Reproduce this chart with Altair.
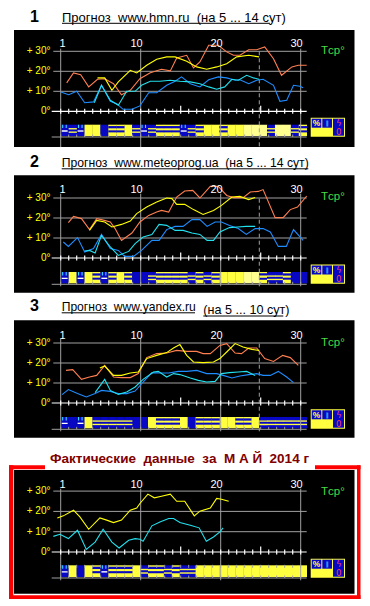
import altair as alt
import pandas as pd

# ------------------------------------------------------------------
# DATA  (x = day position, 0 at the gridline labelled "1", one unit per day;
#        values in degrees C)
# ------------------------------------------------------------------
P1_ORANGE_X = [0.75, 1.6, 2.5, 3.5, 4.6, 5.5, 6.6, 7.6, 8.7, 9.9, 11.2, 12.6, 13.7, 14.5, 15.75, 16.6, 17.4, 18.5, 19.7, 20.75, 21.6, 22.4, 23.5, 24.5, 25.5, 26.6, 27.6, 28.9, 29.7, 30.75]
P1_ORANGE_T = [14.2, 19.2, 18.3, 12.2, 16, 16.3, 13.8, 8.3, 10.5, 16.3, 19.3, 21, 20.2, 26.7, 28, 21.7, 24.7, 33, 33, 29.7, 28, 28, 30.8, 30.8, 32.2, 26.3, 18, 22.2, 23, 23]
P1_YELLOW_X = [4.6, 5.5, 6.4, 7.2, 8.7, 9.5, 10.75, 12, 13.25, 14.3, 15.75, 17, 18.25, 19.5, 20.75, 22, 23.5, 24.8]
P1_YELLOW_T = [16.7, 16.7, 10.5, 14.7, 20.5, 19.2, 23, 26, 27.2, 27.2, 25, 22.2, 21, 22.2, 23.8, 27.2, 28, 27.2]
P1_CYAN_X = [4.2, 5.1, 6.2, 7.2, 8.25, 9.3, 10.1, 11.2, 12.4, 13.7, 14.9, 16.2, 17.4, 18.5, 19.5, 20.5, 21.4, 22.2, 23.25, 24.1, 24.8]
P1_CYAN_T = [4.3, 13, 5.5, 3, 10, 10, 13, 15, 15, 15.5, 15, 14.7, 13.8, 12.2, 11, 12.2, 16, 15.5, 18, 16.7, 16]
P1_BLUE_X = [0, 1, 2, 3, 4.1, 5.1, 6.2, 7, 7.8, 8.9, 9.9, 11, 12, 13.25, 14.3, 15.1, 16.2, 17.4, 18.5, 19.7, 20.75, 21.8, 22.4, 23.5, 24.5, 25.3, 26.6, 27.4, 28.25, 29.1, 29.9, 30.3]
P1_BLUE_T = [9.7, 8.3, 10, 4.3, 4.7, 13, 5, 3.8, 1, 1, 2.7, 9.3, 9.3, 13, 15, 17.2, 13.8, 12.2, 15.8, 17.2, 16.7, 15.5, 15.8, 13.8, 15.5, 16, 13, 5, 5.5, 13, 12.5, 11.8]

P2_ORANGE_X = [0.96, 1.6, 2.6, 3.6, 4.5, 5.1, 6.2, 6.8, 7.6, 8.9, 9.9, 11, 12, 12.6, 13.5, 14.5, 15.5, 16.5, 17.4, 18.7, 19.7, 20.75, 21.6, 22.8, 23.7, 24.7, 25.3, 26.8, 27.8, 28.7, 29.6, 30.75]
P2_ORANGE_T = [17.7, 20.8, 19.7, 14.2, 19.7, 19.2, 18, 14.7, 8.8, 12.5, 18, 21.3, 23, 23.8, 23, 30.5, 33.5, 33.8, 30, 35.8, 35.8, 31.3, 30.2, 30.2, 33, 33.3, 34.2, 20.2, 20.2, 24.2, 25.5, 31]
P2_YELLOW_X = [3.6, 4.5, 5.5, 6.4, 7.6, 8.7, 9.5, 10.75, 12, 13.25, 13.9, 14.5, 15.5, 16.6, 17.8, 19.1, 20.1, 21.4, 22.4, 23.5, 24.3]
P2_YELLOW_T = [13.8, 18.8, 18, 15.5, 16.8, 18.5, 22.2, 25.5, 28, 30, 29.7, 26.8, 26.8, 24.2, 21.8, 23.8, 26.3, 30.5, 30.8, 29.2, 30.2]
P2_CYAN_X = [3, 3.6, 4.3, 5.1, 6.2, 7.2, 8.5, 9.3, 10.3, 11.4, 12.3, 13.25, 14.3, 15.3, 16.4, 17.4, 18.3, 19.1, 19.9, 21.1, 22.1, 23.2, 24.3]
P2_CYAN_T = [3.5, 3.8, 2.5, 11.3, 5.5, 1.3, 3.3, 7.2, 10.5, 11.7, 16.8, 16.3, 13.8, 13.8, 12.5, 11.8, 8.8, 8.8, 13, 15.2, 15.5, 15.8, 15.8]
P2_BLUE_X = [0.33, 0.96, 2.1, 3, 4.1, 5.1, 6.2, 7.2, 8, 9.1, 10.1, 11.4, 12.3, 13.25, 14.3, 15.3, 16.4, 17.4, 18.3, 19.3, 20.1, 21.1, 22.2, 23.2, 24.3, 25.3, 26.2, 27.2, 28.2, 29.1, 30.3]
P2_BLUE_T = [8, 5.8, 10.2, 3, 4.7, 11.8, 4.7, 3.8, 0.8, 0.8, 3.8, 8.8, 8.8, 14.2, 15.8, 15.8, 19.2, 19.2, 15.8, 18, 18, 16.3, 14.7, 11.8, 14.7, 14.7, 13, 5.8, 5.8, 14.2, 8.8]

P3_ORANGE_X = [0.67, 1.5, 2.6, 3.6, 4.5, 5.5, 6.6, 7.6, 8.7, 9.7, 10.75, 12, 13.25, 14.5, 15.75, 17, 17.8, 18.7, 19.9, 20.75, 21.8, 22.6, 23.5, 24.5, 25.5, 26.6, 27.75, 28.7, 29.7]
P3_ORANGE_T = [16.3, 16.7, 11.8, 13, 13.8, 18.8, 13, 12.7, 12.7, 14.7, 22.7, 24.7, 25, 26.3, 25.8, 25.8, 24.7, 24.7, 28.8, 29.7, 25, 24.7, 27.5, 27.5, 22.2, 20.8, 23.8, 22.7, 18.8]
P3_YELLOW_X = [4.9, 5.5, 6.6, 7.6, 8.7, 9.7, 10.75, 12, 13.25, 14.1, 14.9, 15.75, 16.6, 17.8, 19.1, 19.9, 20.75, 21.8, 22.8, 23.9, 24.8]
P3_YELLOW_T = [17.5, 18.5, 13.8, 13.8, 15, 15.5, 22.2, 23.8, 25.2, 27.5, 29.2, 23.8, 20.5, 20.2, 20.5, 22.2, 25.5, 29.7, 28, 26.8, 26.3]
P3_CYAN_X = [4.3, 5.5, 6.2, 7.2, 8.25, 9.3, 10.3, 11.6, 12.2, 13.25, 14.1, 14.9, 16.2, 17.2, 18.25, 19.3, 20.1, 21.1, 22.2, 23.25, 24.3]
P3_CYAN_T = [5.2, 11.8, 6.3, 4.3, 5.5, 8, 11.8, 15.5, 15.8, 13, 14.7, 14.2, 12.5, 11.3, 10.5, 10.8, 14.7, 15.2, 15.5, 15.8, 13.8]
P3_BLUE_X = [0.17, 0.96, 2.1, 3.2, 4.3, 5.1, 6.2, 7.2, 8.25, 9.3, 10.3, 11.4, 12.4, 13.5, 14.7, 15.75, 17, 18.25, 19.5, 20.3, 21.4, 22.4, 23.5, 24.5, 25.3, 26.2, 27.2, 28.25, 29.1]
P3_BLUE_T = [4.2, 6.7, 4.7, 3, 4.7, 6.3, 5.8, 4.7, 4.7, 6, 10.5, 15.2, 15, 15, 15.8, 15.8, 16.3, 14.7, 14.7, 13.8, 12.5, 13.5, 14.2, 14.7, 13.8, 13.8, 15.8, 13, 10.2]

P4_YELLOW_X = [-0.42, 0.33, 1.6, 2.4, 3.5, 4.9, 5.75, 6.6, 7.6, 8.7, 9.5, 9.9, 10.9, 11.7, 12.6, 13.7, 14.5, 15.5, 16.7, 17.4, 18.7, 19.5, 20.1, 21]
P4_YELLOW_T = [16.8, 17.8, 20.6, 17.3, 11.2, 16.8, 15.7, 14.5, 15.7, 20.6, 21.7, 23.9, 28.5, 26.7, 27.5, 28.5, 25, 25, 17.8, 20.1, 21.7, 26.4, 26, 25]
P4_CYAN_X = [-0.92, -0.1, 0.96, 2.1, 3.2, 4.3, 5.3, 6.4, 7.3, 8.5, 9.3, 9.9, 10.3, 11.4, 12.4, 13.5, 14.1, 14.9, 16.2, 17.3, 18.2, 19.1, 19.9, 20.3]
P4_CYAN_T = [7.7, 8.7, 6.6, 10.7, 1.3, 4.9, 11.2, 4.9, 2, 5.8, 6.6, 6.3, 5.3, 12.9, 14.8, 16.5, 16.5, 14.5, 13.2, 11.9, 5.3, 7.4, 9.9, 11.9]

# weather strip, one code per day: R rain(blue+marks) B blue striped b blue
# Y yellow L light yellow S yellow with blue stripes
STRIP_1 = "RBRYYbSSYBRBSSSRBSYYSYYLLLBLLBS"
STRIP_2 = "RYRYSRSYSbbBSSSSBSBSYYYLLSBBSbb"
STRIP_3 = "RbRYBBBBBbbYSSSYbSSSYYSSYBBBBBB"
STRIP_4 = "RYbYSRSSSYBSSBSBB" + "Y" * 14

X_TICKS = [0, 10, 20, 30]
X_TICK_LABELS = ["1", "10", "20", "30"]
Y_TICKS = [30, 20, 10, 0]
Y_TICK_LABELS = ["+ 30°", "+ 20°", "+ 10°", "0°"]

# (text, left x, baseline shift, underline end x)
TITLES = [
    [("Прогноз  www.hmn.ru  (на 5 ... 14 сут)", 62.0, 0.0, 270.0)],
    [("Прогноз  www.meteoprog.ua  (на 5 ... 14 сут)", 61.7, 0.0, 308.3)],
    [("Прогноз  www.yandex.ru", 61.7, 0.0, 195.0), ("(на 5 ... 10 сут)", 203.3, 3.2, 283.3)],
]
TITLE_SIZES = [[13.0], [12.2], [12.1, 12.6]]
FACT_TITLE = "Фактические  данные  за  М А Й  2014 г"

# ------------------------------------------------------------------
# STYLE / LAYOUT
# ------------------------------------------------------------------
COLORS = {"orange": "#FF7F50", "yellow": "#FFFF00", "cyan": "#22E0EE", "blue": "#1E8CFF"}
BLUE_S, YEL_S, LYEL_S, CYAN_S = "#0808C4", "#FFFF40", "#FFFF90", "#40E8FF"
GRID = "#A0A0A0"
FONT = "Liberation Sans"
W = 354


def px(x):
    return (x - 60.7) / 8.0


XD = [px(8), px(8 + W)]

CFG = [
    dict(top=8, bot=148, y0=109.3, k=2.0, black=(28, 145), strip=(122.7, 134.0), bline=135.0,
         vtop=46.7, vbot=145.0, dash=(49.3, 145.0), daylab=45.0, tcp=52.0, box=(115.7, 134.7),
         tbase=19.5, num="1"),
    dict(top=148, bot=293, y0=256.0, k=2.0, black=(173.3, 290.7), strip=(270.0, 281.3), bline=282.3,
         vtop=191.7, vbot=284.3, dash=(196.7, 284.3), daylab=191.0, tcp=198.0, box=(262.5, 281.7),
         tbase=165.0, num="2"),
    dict(top=293, bot=438, y0=401.0, k=2.0, black=(318.3, 435.7), strip=(415.0, 426.3), bline=427.3,
         vtop=336.7, vbot=429.3, dash=(341.7, 429.3), daylab=336.5, tcp=343.5, box=(407.3, 426.7),
         tbase=309.0, num="3"),
    dict(top=438, bot=598, y0=550.0, k=2.03, black=(468, 591.7), strip=(563.3, 575.0), bline=576.0,
         vtop=486.7, vbot=578.3, dash=None, daylab=485.5, tcp=493.0, box=(556.7, 575.7),
         tbase=461.0, num=None),
]

SERIES = [
    {"orange": (P1_ORANGE_X, P1_ORANGE_T), "yellow": (P1_YELLOW_X, P1_YELLOW_T),
     "blue": (P1_BLUE_X, P1_BLUE_T), "cyan": (P1_CYAN_X, P1_CYAN_T)},
    {"orange": (P2_ORANGE_X, P2_ORANGE_T), "yellow": (P2_YELLOW_X, P2_YELLOW_T),
     "blue": (P2_BLUE_X, P2_BLUE_T), "cyan": (P2_CYAN_X, P2_CYAN_T)},
    {"orange": (P3_ORANGE_X, P3_ORANGE_T), "yellow": (P3_YELLOW_X, P3_YELLOW_T),
     "blue": (P3_BLUE_X, P3_BLUE_T), "cyan": (P3_CYAN_X, P3_CYAN_T)},
    {"yellow": (P4_YELLOW_X, P4_YELLOW_T), "cyan": (P4_CYAN_X, P4_CYAN_T)},
]
STRIPS = [STRIP_1, STRIP_2, STRIP_3, STRIP_4]


def nb(s):
    return s.replace(" ", "\u00a0")


def make_panel(idx):
    cfg = CFG[idx]
    y0, k = cfg["y0"], cfg["k"]

    def ty(y):
        return (y0 - y) / k

    xs = alt.Scale(domain=XD, nice=False, zero=False)
    ys = alt.Scale(domain=[ty(cfg["bot"]), ty(cfg["top"])], nice=False, zero=False)
    ex = alt.X("x:Q", scale=xs, axis=None)
    ey = alt.Y("y:Q", scale=ys, axis=None)
    col = alt.Color("c:N", scale=None)

    def R(x1, x2, y1, y2, c):
        return (px(x1), px(x2), ty(y1), ty(y2), c)

    def rect_layer(rows):
        df = pd.DataFrame(rows, columns=["x", "x2", "y", "y2", "c"])
        return alt.Chart(df).mark_rect(strokeWidth=0).encode(
            x=ex, x2="x2:Q", y=ey, y2="y2:Q", color=col)

    def rule_layer(rows, width=1.0, dash=None):
        df = pd.DataFrame(rows, columns=["x", "x2", "y", "y2", "c"])
        kw = dict(strokeWidth=width)
        if dash:
            kw["strokeDash"] = dash
        return alt.Chart(df).mark_rule(**kw).encode(
            x=ex, x2="x2:Q", y=ey, y2="y2:Q", color=col)

    def text_layer(rows, **style):
        df = pd.DataFrame([(px(a), ty(b), t, c) for a, b, t, c in rows],
                          columns=["x", "y", "txt", "c"])
        return alt.Chart(df).mark_text(font=style.pop("font", FONT), **style).encode(
            x=ex, y=ey, text="txt:N", color=col)

    layers = []

    # ---- background rectangles ----
    rects = []
    if idx == 3:
        red = "#FF0000"
        rects += [R(9, 13.3, 463.3, 597, red), R(357, 360.5, 463.3, 597, red),
                  R(9, 360.5, 593.3, 597, red), R(9, 45, 463.3, 467.3, red),
                  R(315, 360.5, 463.3, 467.3, red)]
    bt, bb = cfg["black"]
    rects.append(R(14, 354.5, bt, bb, "#000000"))

    st, sb = cfg["strip"]
    sh = sb - st
    cw = 246.0 / 31
    stripes = []
    for i, code in enumerate(STRIPS[idx]):
        x1 = 60.7 + i * cw
        x2 = x1 + cw
        base = {"R": BLUE_S, "B": BLUE_S, "b": BLUE_S, "Y": YEL_S, "L": LYEL_S, "S": YEL_S}[code]
        rects.append(R(x1, x2 + 0.3, st, sb, base))
        if code == "B":
            for f1, f2 in [(0.3, 0.42), (0.6, 0.72)]:
                stripes.append(R(x1, x2 + 0.3, st + f1 * sh, st + f2 * sh, YEL_S))
        elif code == "S":
            for f1, f2 in [(0.12, 0.32), (0.5, 0.68)]:
                stripes.append(R(x1, x2 + 0.3, st + f1 * sh, st + f2 * sh, BLUE_S))
        elif code == "R":
            stripes.append(R(x1 + 1.5, x1 + 2.5, st, st + 0.3 * sh, CYAN_S))
            stripes.append(R(x1 + 5, x1 + 6, st, st + 0.3 * sh, CYAN_S))
            stripes.append(R(x1 + 1, x2 - 1, st + 0.5 * sh, st + 0.62 * sh, "#FFFFFF"))
    rects += stripes

    by0, by1 = cfg["box"]
    bx0, bx1 = 310.7, 345.0
    rects += [R(bx0, bx1, by0, by1, YEL_S),
              R(bx0 + 1, bx0 + 10.6, by0 + 1, by0 + 10, BLUE_S),
              R(bx0 + 11.6, bx0 + 21.3, by0 + 1, by0 + 10, BLUE_S),
              R(bx0 + 22.3, bx1 - 1, by0 + 1, by1 - 1, BLUE_S)]
    layers.append(rect_layer(rects))

    # ---- gray grid ----
    grid = []
    for v in Y_TICKS[:-1]:
        grid.append((px(53.3), px(306.7), float(v), float(v), GRID))
    for v in X_TICKS:
        grid.append((float(v), float(v), ty(cfg["vtop"]), ty(cfg["vbot"]), GRID))
    bl = cfg["bline"]
    grid.append((px(51.7), px(306.7), ty(bl), ty(bl), GRID))
    for d in range(31):
        grid.append((float(d), float(d), ty(bl - 2.5), ty(bl), GRID))
        if idx == 3:
            grid.append((float(d), float(d), ty(st - 0.5), ty(st + 2.5), GRID))
    layers.append(rule_layer(grid, 1.0))

    # ---- zero line with day ticks ----
    zero = [(px(51.7), px(306.7), 0.0, 0.0, "#FFFFFF")]
    for d in range(31):
        up = 5.5 if d in (15, 25) else 2.5
        zero.append((float(d), float(d), ty(y0 - up), ty(y0 + 2.5), "#FFFFFF"))
    layers.append(rule_layer(zero, 1.2))

    if cfg["dash"]:
        d1, d2 = cfg["dash"]
        layers.append(rule_layer([(px(259.3), px(259.3), ty(d1), ty(d2), GRID)], 1.0, [4, 3]))

    # ---- data lines ----
    rows = []
    for name, (xv, tv) in SERIES[idx].items():
        for i, (a, b) in enumerate(zip(xv, tv)):
            rows.append(dict(x=a, y=b, s=name, c=COLORS[name], i=i))
    ldf = pd.DataFrame(rows)
    layers.append(alt.Chart(ldf).mark_line(strokeWidth=1.1).encode(
        x=ex, y=ey, detail="s:N", color=col, order="i:Q"))

    # ---- axis texts ----
    dl = cfg["daylab"]
    layers.append(text_layer([(59.5, dl, X_TICK_LABELS[0], "#FFFFFF")],
                             fontSize=11, align="left", baseline="alphabetic"))
    layers.append(text_layer([(60.7 + 8 * v + 2, dl, lab, "#FFFFFF")
                              for v, lab in zip(X_TICKS[1:], X_TICK_LABELS[1:])],
                             fontSize=11, align="right", baseline="alphabetic"))
    layers.append(text_layer([(50.5, y0 - k * v, nb(lab), "#FFFF00")
                              for v, lab in zip(Y_TICKS, Y_TICK_LABELS)],
                             fontSize=10, align="right", baseline="middle"))
    layers.append(text_layer([(321, cfg["tcp"], "Tср°", "#44DD44")],
                             fontSize=11.5, align="left", baseline="alphabetic"))

    # ---- legend box glyphs ----
    layers.append(text_layer([(bx0 + 5.8, by0 + 5.5, "%", "#FFFF40")],
                             fontSize=8.5, fontWeight="bold", align="center", baseline="middle"))
    layers.append(text_layer([(bx0 + 16.5, by0 + 5.5, "\u2016", "#60E8FF")],
                             fontSize=6, align="center", baseline="middle", font="DejaVu Sans"))
    layers.append(text_layer([(bx0 + 28.0, by0 + 5.5, "ϟ", "#FF4040"),
                              (bx0 + 28.0, by0 + 14.3, "0", "#FF4040")],
                             fontSize=8.5, align="center", baseline="middle", font="DejaVu Sans"))

    # ---- titles ----
    tb = cfg["tbase"]
    if idx < 3:
        layers.append(text_layer([(30, tb, cfg["num"], "#000000")],
                                 fontSize=16, fontWeight="bold", align="left", baseline="alphabetic"))
        urows = []
        for (txt, x1, dy, x2), fs in zip(TITLES[idx], TITLE_SIZES[idx]):
            layers.append(text_layer([(x1, tb + dy, nb(txt), "#000000")],
                                     fontSize=fs, align="left", baseline="alphabetic"))
            urows.append((px(x1), px(x2), ty(tb + dy + 1.8), ty(tb + dy + 1.8), "#000000"))
        layers.append(rule_layer(urows, 1.0))
    else:
        layers.append(text_layer([(179.5, tb, nb(FACT_TITLE), "#800000")],
                                 fontSize=13.5, fontWeight="bold", align="center", baseline="alphabetic"))

    return alt.layer(*layers).properties(width=W, height=cfg["bot"] - cfg["top"])


chart = alt.vconcat(*[make_panel(i) for i in range(4)], spacing=0, bounds="flush").resolve_scale(
    x="independent", y="independent", color="independent"
).properties(padding=0).configure_view(strokeWidth=0)

chart.save("out.html", embed_options={"renderer": "svg", "actions": False})
